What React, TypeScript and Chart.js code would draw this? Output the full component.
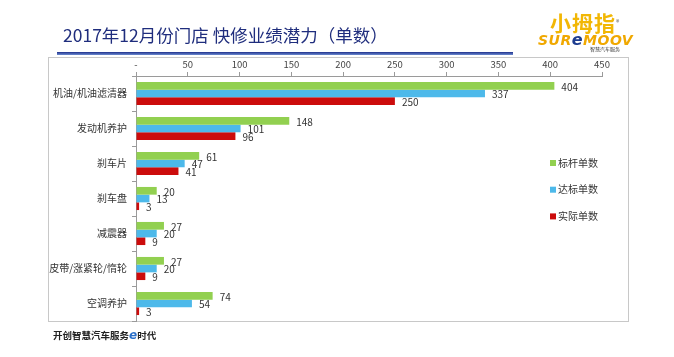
import React, { useEffect, useRef } from "react";
import { Chart, registerables } from "chart.js";

Chart.register(...registerables);

const categories = ["机油/机油滤清器", "发动机养护", "刹车片", "刹车盘", "减震器", "皮带/涨紧轮/惰轮", "空调养护"];
const benchmarkCounts = [404, 148, 61, 20, 27, 27, 74];
const reachedCounts = [337, 101, 47, 13, 20, 20, 54];
const actualCounts = [250, 96, 41, 3, 9, 9, 3];
const seriesNames = ["标杆单数", "达标单数", "实际单数"];
const seriesColors = ["#92D050", "#4DB9EA", "#CC0C0C"];
const axisMin = 0;
const axisMax = 450;
const axisStep = 50;

const FONT = "'Noto Sans CJK SC', 'Noto Sans', sans-serif";

const valueLabels = {
  id: "valueLabels",
  afterDatasetsDraw(chart: any) {
    const ctx = chart.ctx;
    ctx.save();
    ctx.font = `10px ${FONT}`;
    ctx.fillStyle = "#333";
    ctx.textAlign = "left";
    ctx.textBaseline = "middle";
    chart.data.datasets.forEach((ds: any, i: number) => {
      const meta = chart.getDatasetMeta(i);
      meta.data.forEach((el: any, j: number) => {
        ctx.fillText(String(ds.data[j]), el.x + 7, el.y + 1);
      });
    });
    ctx.restore();
  },
};

const sideLegend = {
  id: "sideLegend",
  afterDraw(chart: any) {
    const ctx = chart.ctx;
    ctx.save();
    ctx.font = `10px ${FONT}`;
    ctx.textAlign = "left";
    ctx.textBaseline = "middle";
    chart.data.datasets.forEach((ds: any, i: number) => {
      const y = 163 + i * 26.7;
      ctx.fillStyle = ds.backgroundColor;
      ctx.fillRect(550, y - 3, 6, 6);
      ctx.fillStyle = "#333";
      ctx.fillText(ds.label, 558, y);
    });
    ctx.restore();
  },
};

function ChartCanvas() {
  const ref = useRef<HTMLCanvasElement | null>(null);
  useEffect(() => {
    if (!ref.current) return;
    const chart = new Chart(ref.current, {
      type: "bar",
      data: {
        labels: categories,
        datasets: [
          { label: seriesNames[0], data: benchmarkCounts, backgroundColor: seriesColors[0] },
          { label: seriesNames[1], data: reachedCounts, backgroundColor: seriesColors[1] },
          { label: seriesNames[2], data: actualCounts, backgroundColor: seriesColors[2] },
        ],
      },
      options: {
        indexAxis: "y",
        animation: false,
        responsive: false,
        maintainAspectRatio: false,
        devicePixelRatio: 1,
        layout: { padding: { left: 48, right: 72, top: 57, bottom: 36 } },
        datasets: { bar: { categoryPercentage: 0.66, barPercentage: 1.0 } },
        plugins: { legend: { display: false }, tooltip: { enabled: false }, title: { display: false } },
        scales: {
          x: {
            position: "top",
            min: axisMin,
            max: axisMax,
            ticks: {
              stepSize: axisStep,
              color: "#444",
              font: { family: FONT, size: 9.5 },
              padding: 2,
              callback: (v: any) => (v === 0 ? "-" : String(v)),
            },
            grid: { display: true, drawOnChartArea: false, drawTicks: true, tickLength: 4, color: "#9a9a9a" },
            border: { display: true, color: "#9a9a9a" },
            afterFit: (s: any) => {
              s.height = 19;
            },
          },
          y: {
            ticks: { color: "#333", font: { family: FONT, size: 10 }, padding: 5 },
            grid: { display: true, drawOnChartArea: false, offset: true, tickLength: 4, color: "#9a9a9a" },
            border: { display: true, color: "#9a9a9a" },
            afterFit: (s: any) => {
              s.width = 88;
            },
          },
        },
      },
      plugins: [valueLabels, sideLegend],
    });
    return () => chart.destroy();
  }, []);
  return <canvas ref={ref} width={674} height={357} style={{ position: "absolute", left: 0, top: 0 }} />;
}

export default function App() {
  return (
    <div style={{ position: "absolute", left: 0, top: 0, width: 674, height: 357, background: "#fff", overflow: "hidden", fontFamily: FONT }}>
      <div style={{ position: "absolute", left: 48, top: 57, width: 581, height: 265, border: "1.5px solid #c8c8c8", boxSizing: "border-box" }} />
      <ChartCanvas />
      <div style={{ position: "absolute", left: 63, top: 24, fontSize: 17.5, color: "#1f2d7d", whiteSpace: "nowrap", lineHeight: "22px" }}>
        2017年12月份门店 快修业绩潜力（单数）
      </div>
      <div style={{ position: "absolute", left: 57, top: 51.5, width: 456, height: 3, background: "linear-gradient(#1e2f8c, #6d8cd0)" }} />
      <div style={{ position: "absolute", left: 550, top: 9, fontSize: 21, fontWeight: 700, color: "#f2b705", lineHeight: "26px", whiteSpace: "nowrap", letterSpacing: 1 }}>
        小拇指<span style={{ fontSize: 7, verticalAlign: "top", color: "#555", fontWeight: 400 }}>®</span>
      </div>
      <div style={{ position: "absolute", left: 538, top: 33, fontSize: 14, fontWeight: 700, fontStyle: "italic", color: "#f0a800", lineHeight: "14px", whiteSpace: "nowrap", fontFamily: "'DejaVu Sans', sans-serif", letterSpacing: 0.5 }}>
        SUR<span style={{ color: "#1d3c8f", fontSize: 16 }}>e</span>MOOV
      </div>
      <div style={{ position: "absolute", left: 590, top: 46, fontSize: 5, color: "#333", lineHeight: "6px", whiteSpace: "nowrap" }}>
        智慧汽车服务
      </div>
      <div style={{ position: "absolute", left: 53, top: 329, fontSize: 9.5, fontWeight: 700, color: "#222", lineHeight: "12px", whiteSpace: "nowrap" }}>
        开创智慧汽车服务<span style={{ color: "#2a6fc9", fontStyle: "italic", fontSize: 12, fontFamily: "'DejaVu Sans', sans-serif" }}>e</span>时代
      </div>
    </div>
  );
}
